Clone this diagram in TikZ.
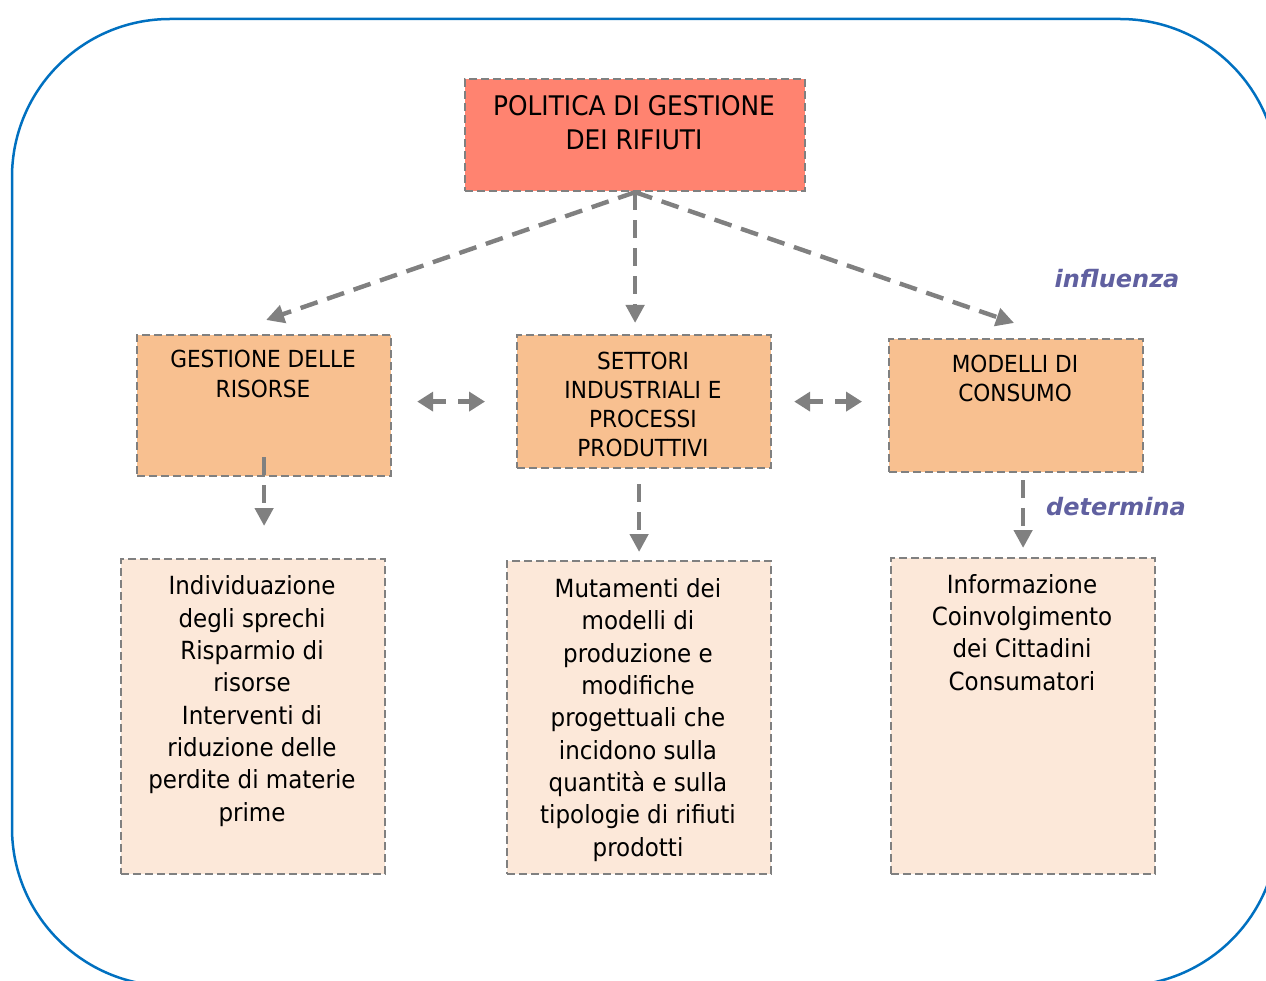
\documentclass[tikz,border=0pt]{standalone}
\usepackage{fontspec}
\setmainfont{DejaVu Sans}[FakeStretch=0.92]
\newfontfamily\tagfont{DejaVu Sans}
\usetikzlibrary{arrows.meta,calc}
\definecolor{frameblue}{RGB}{0,112,192}
\definecolor{boxgray}{RGB}{128,128,128}
\definecolor{arrowgray}{RGB}{128,128,128}
\definecolor{topfill}{RGB}{255,131,112}
\definecolor{midfill}{RGB}{248,192,144}
\definecolor{lowfill}{RGB}{252,232,217}
\definecolor{tagcol}{RGB}{96,96,160}
\begin{document}
\begin{tikzpicture}[x=1pt,y=-1pt,
  box/.style={draw=boxgray, line width=2.2pt, dash pattern=on 8pt off 4pt, inner sep=0pt, anchor=north west},
  topbox/.style={box, fill=topfill},
  midbox/.style={box, fill=midfill},
  lowbox/.style={box, fill=lowfill},
  % texts are placed by the baseline of their last line
  txt/.style={anchor=base, align=center, inner sep=0pt},
  bigtxt/.style={txt, font=\fontsize{27}{34}\selectfont},
  captxt/.style={txt, font=\fontsize{23.5}{29}\selectfont},
  bodytxt/.style={txt, font=\fontsize{25}{32.3}\selectfont},
  flow/.style={draw=arrowgray, line width=4.4pt, dash pattern=on 18pt off 10pt, -{Triangle[length=18pt,width=18pt]}},
  pair/.style={draw=arrowgray, line width=4.4pt, dash pattern=on 14pt off 12pt, {Triangle[length=16pt,width=19pt]}-{Triangle[length=16pt,width=19pt]}},
  tag/.style={text=tagcol, font=\tagfont\bfseries\itshape\fontsize{24}{28}\selectfont, anchor=base, inner sep=0pt}
]
\useasboundingbox (0,0) rectangle (1266,981);

% outer frame
\draw[frameblue, line width=2.5pt, rounded corners=158pt] (12,19) rectangle (1278,986);

% boxes
\node[topbox, minimum width=340pt, minimum height=112pt] (pol) at (464,78) {};
\node[midbox, minimum width=254pt, minimum height=141pt] (gr) at (136,334) {};
\node[midbox, minimum width=254pt, minimum height=133pt] (set) at (516,334) {};
\node[midbox, minimum width=254pt, minimum height=133pt] (mr) at (888,338) {};
\node[lowbox, minimum width=264pt, minimum height=315pt] (lgr) at (120,558) {};
\node[lowbox, minimum width=264pt, minimum height=313pt] (lset) at (506,560) {};
\node[lowbox, minimum width=264pt, minimum height=316pt] (lmr) at (890,557) {};

% box texts
\node[bigtxt] (pol-t) at (634,150) {POLITICA DI GESTIONE\\DEI RIFIUTI};
\node[captxt] (gr-t) at (263,397) {GESTIONE DELLE\\RISORSE};
\node[captxt] (set-t) at (643,456) {SETTORI\\INDUSTRIALI E\\PROCESSI\\PRODUTTIVI};
\node[captxt] (mr-t) at (1015,402) {MODELLI DI\\CONSUMO};
\node[bodytxt] (lgr-t) at (252,821) {Individuazione\\degli sprechi\\Risparmio di\\risorse\\Interventi di\\riduzione delle\\perdite di materie\\prime};
\node[bodytxt] (lset-t) at (638,856) {Mutamenti dei\\modelli di\\produzione e\\modifiche\\progettuali che\\incidono sulla\\quantità e sulla\\tipologie di rifiuti\\prodotti};
\node[bodytxt] (lmr-t) at (1022,690) {Informazione\\Coinvolgimento\\dei Cittadini\\Consumatori};

% labels
\node[tag] (infl) at (1117,288) {influenza};
\node[tag] (det) at (1116,515) {determina};

% connectors from the policy box
\draw[flow] (pol.south) -- ($(gr.north)+(2,-14)$);
\draw[flow, shorten >=11pt] (pol.south) -- (pol.south |- set.north);
\draw[flow] (pol.south) -- ($(mr.north)+(-2,-15)$);

% two-way links between the middle boxes
\draw[pair, shorten <=25pt, shorten >=31pt] (gr.east |- set.west) -- (set.west);
\draw[pair, shorten <=22pt, shorten >=26pt] (set.east) -- (set.east -| mr.west);

% downward links
\draw[flow, shorten <=-20pt, shorten >=32pt] (gr.south) -- (gr.south |- lgr.north);
\draw[flow, shorten <=15pt, shorten >=8pt] (lset.north |- set.south) -- (lset.north);
\draw[flow, shorten <=7pt, shorten >=9pt] (lmr.north |- mr.south) -- (lmr.north);
\end{tikzpicture}
\end{document}
